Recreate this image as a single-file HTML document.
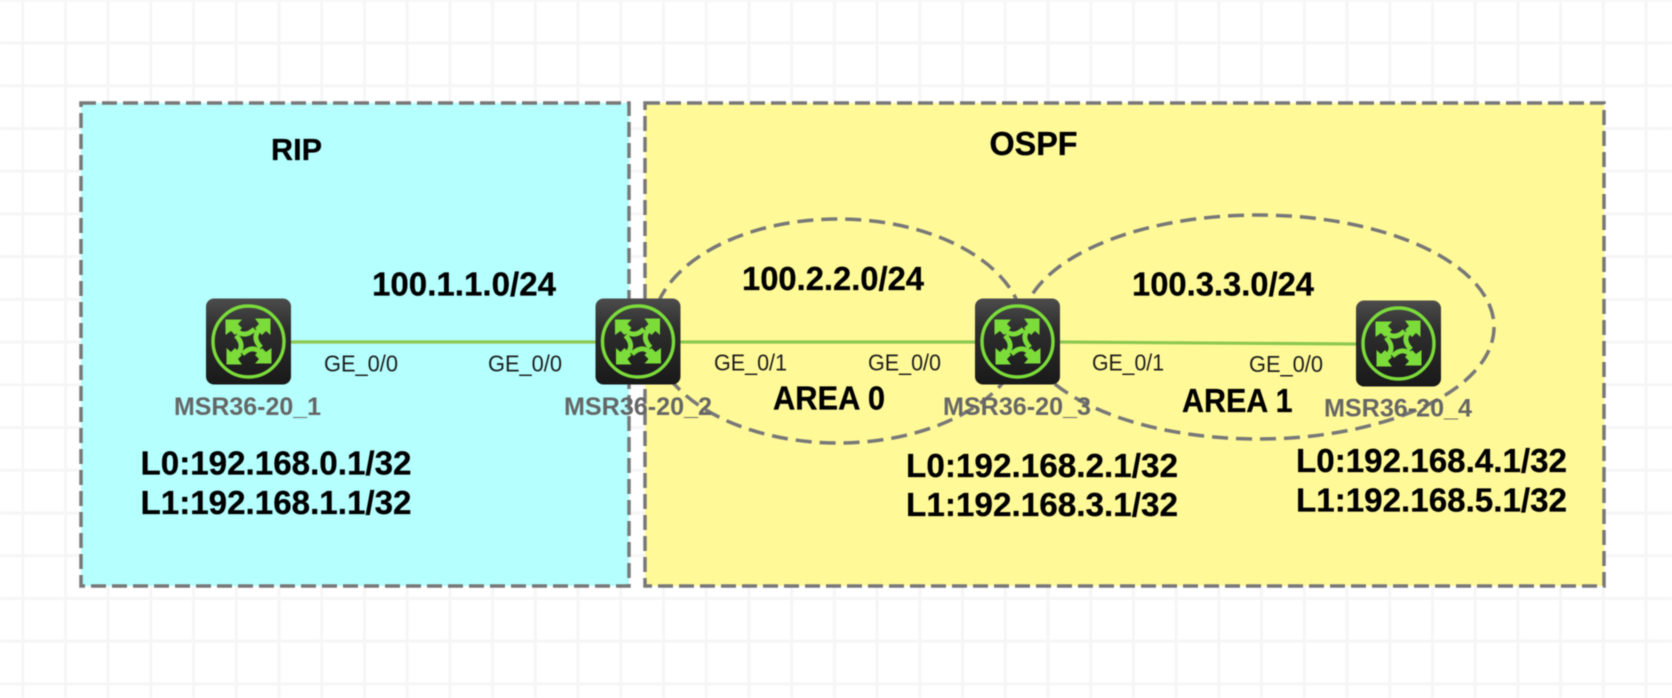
<!DOCTYPE html>
<html><head><meta charset="utf-8"><style>
html,body{margin:0;padding:0;background:#fff;width:1672px;height:698px;overflow:hidden}
svg{display:block;filter:blur(.5px)}
text{font-family:"Liberation Sans",Arial,sans-serif;fill:#000}
.b{font-weight:bold;stroke:#000;stroke-width:.3}
.n{font-weight:bold;fill:#666}
.g{fill:#1c1c1c}
</style></head><body>
<svg width="1672" height="698" viewBox="0 0 1672 698" xmlns="http://www.w3.org/2000/svg">
<defs>
<pattern id="grid" patternUnits="userSpaceOnUse" x="22.7" y="0.3" width="42.72" height="42.72">
<path d="M0 0V42.72M-1 0H44" stroke="#f6f6f6" stroke-width="3" fill="none"/>
<path d="M42.72 0V42.72M-1 42.72H44" stroke="#f6f6f6" stroke-width="3" fill="none"/>
</pattern>
<linearGradient id="rg" x1="0" y1="0" x2="0" y2="1">
<stop offset="0" stop-color="#4c4c4c"/><stop offset=".35" stop-color="#2e2e2e"/><stop offset="1" stop-color="#191919"/>
</linearGradient>
<g id="arm">
<path d="M-23 -22H-6.5L-10.5 -17.5L-6.5 -13.5L-13.5 -6.5L-17.5 -10.5L-23 -6.5Z" fill="#7bdc3a"/>
<path d="M-12 -11Q-4 -3 6 -12.5" fill="none" stroke="#7bdc3a" stroke-width="5"/>
</g>
<g id="router">
<rect x="-42.5" y="-43" width="85" height="86" rx="8" fill="url(#rg)"/>
<circle r="35.5" fill="none" stroke="#7bdc3a" stroke-width="3.4"/>
<use href="#arm"/><use href="#arm" transform="rotate(90)"/><use href="#arm" transform="rotate(180)"/><use href="#arm" transform="rotate(270)"/>
</g>
</defs>
<rect width="1672" height="698" fill="#fff"/>
<rect width="1672" height="698" fill="url(#grid)"/>

<rect x="81" y="103" width="548" height="483" fill="#b5ffff" stroke="#787878" stroke-width="3.5" stroke-dasharray="15 6"/>
<rect x="645" y="103" width="959" height="483" fill="#fff998" stroke="#787878" stroke-width="3.5" stroke-dasharray="15 6"/>

<ellipse cx="838" cy="331" rx="186" ry="112" fill="none" stroke="#787878" stroke-width="3.5" stroke-dasharray="16 8"/>
<ellipse cx="1258" cy="327" rx="236" ry="112" fill="none" stroke="#787878" stroke-width="3.5" stroke-dasharray="16 8"/>

<g stroke="#8cc850" stroke-width="3.2">
<line x1="290" y1="342" x2="596" y2="342"/>
<line x1="680" y1="342" x2="975" y2="342"/>
<line x1="1060" y1="342" x2="1356" y2="344"/>
</g>

<use href="#router" x="248.5" y="341.5"/>
<use href="#router" x="638" y="341.5"/>
<use href="#router" x="1017.5" y="341.5"/>
<use href="#router" x="1398.5" y="343.5"/>

<text class="b" x="271" y="160" font-size="31" textLength="51" lengthAdjust="spacingAndGlyphs">RIP</text>
<text class="b" x="989.5" y="155" font-size="33" textLength="88" lengthAdjust="spacingAndGlyphs">OSPF</text>

<g font-size="33.5">
<text class="b" x="372" y="295.5" textLength="184" lengthAdjust="spacingAndGlyphs">100.1.1.0/24</text>
<text class="b" x="742" y="290" textLength="182" lengthAdjust="spacingAndGlyphs">100.2.2.0/24</text>
<text class="b" x="1132" y="295.5" textLength="182" lengthAdjust="spacingAndGlyphs">100.3.3.0/24</text>
<text class="b" x="773" y="409.5" textLength="112" lengthAdjust="spacingAndGlyphs">AREA 0</text>
<text class="b" x="1182" y="412" textLength="110.5" lengthAdjust="spacingAndGlyphs">AREA 1</text>
<text class="b" x="140.5" y="474.5" textLength="271" lengthAdjust="spacingAndGlyphs">L0:192.168.0.1/32</text>
<text class="b" x="140.5" y="514" textLength="271" lengthAdjust="spacingAndGlyphs">L1:192.168.1.1/32</text>
<text class="b" x="906" y="477" textLength="272" lengthAdjust="spacingAndGlyphs">L0:192.168.2.1/32</text>
<text class="b" x="906" y="516" textLength="272" lengthAdjust="spacingAndGlyphs">L1:192.168.3.1/32</text>
<text class="b" x="1296" y="472" textLength="271" lengthAdjust="spacingAndGlyphs">L0:192.168.4.1/32</text>
<text class="b" x="1296" y="511.5" textLength="271" lengthAdjust="spacingAndGlyphs">L1:192.168.5.1/32</text>
</g>

<g font-size="23">
<text class="g" x="324" y="371.5" textLength="74" lengthAdjust="spacingAndGlyphs">GE_0/0</text>
<text class="g" x="488" y="371.5" textLength="74" lengthAdjust="spacingAndGlyphs">GE_0/0</text>
<text class="g" x="714" y="370.5" textLength="73" lengthAdjust="spacingAndGlyphs">GE_0/1</text>
<text class="g" x="868" y="370.5" textLength="73" lengthAdjust="spacingAndGlyphs">GE_0/0</text>
<text class="g" x="1092" y="370.5" textLength="72" lengthAdjust="spacingAndGlyphs">GE_0/1</text>
<text class="g" x="1249" y="372" textLength="74" lengthAdjust="spacingAndGlyphs">GE_0/0</text>
</g>

<g font-size="25">
<text class="n" x="174" y="415" textLength="147" lengthAdjust="spacingAndGlyphs">MSR36-20_1</text>
<text class="n" x="564" y="415" textLength="148" lengthAdjust="spacingAndGlyphs">MSR36-20_2</text>
<text class="n" x="943" y="415" textLength="148" lengthAdjust="spacingAndGlyphs">MSR36-20_3</text>
<text class="n" x="1324" y="416.5" textLength="148" lengthAdjust="spacingAndGlyphs">MSR36-20_4</text>
</g>
</svg>
</body></html>
